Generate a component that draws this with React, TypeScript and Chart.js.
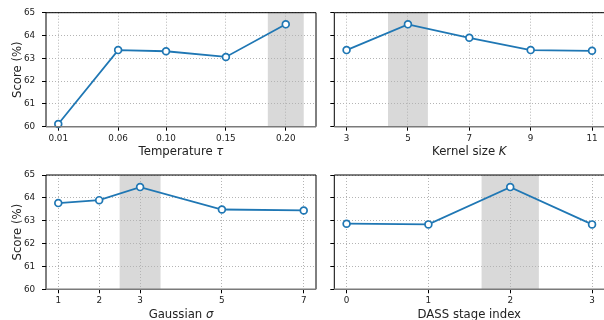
import React, { useEffect, useRef } from "react";
import { Chart, registerables } from "chart.js";

Chart.register(...registerables);
Chart.defaults.font.family = '"DejaVu Sans", sans-serif';

const BLUE = "#1f77b4";

// ---- data ----
const tempValues = [0.01, 0.06, 0.1, 0.15, 0.2];
const tempTickLabels = ["0.01", "0.06", "0.10", "0.15", "0.20"];
const tempScores = [60.12, 63.36, 63.31, 63.06, 64.49];

const kernelValues = [3, 5, 7, 9, 11];
const kernelTickLabels = ["3", "5", "7", "9", "11"];
const kernelScores = [63.36, 64.49, 63.9, 63.36, 63.33];

const sigmaValues = [1, 2, 3, 5, 7];
const sigmaTickLabels = ["1", "2", "3", "5", "7"];
const sigmaScores = [63.77, 63.9, 64.47, 63.49, 63.45];

const stageValues = [0, 1, 2, 3];
const stageTickLabels = ["0", "1", "2", "3"];
const stageScores = [62.87, 62.84, 64.47, 62.84];

const yTickValues = [60, 61, 62, 63, 64, 65];
const yTitle = "Score (%)";

type Part = { text: string; italic: boolean };

type PanelDef = {
  xs: number[];
  ys: number[];
  tickLabels: string[];
  xMin: number;
  xMax: number;
  spanFrom: number;
  spanTo: number;
  label: Part[];
  showY: boolean;
  rightBorder: boolean;
  left: number;
  top: number;
  w: number;
  h: number;
  padTop: number;
  padRight: number;
  yAxisW: number;
  plotH: number;
};

const spanPlugin = {
  id: "span",
  beforeDraw(chart: any, _a: any, opts: any) {
    const { ctx, chartArea } = chart;
    const x = chart.scales.x;
    const x0 = x.getPixelForValue(opts.from);
    const x1 = x.getPixelForValue(opts.to);
    ctx.save();
    ctx.fillStyle = "#d9d9d9";
    ctx.fillRect(x0, chartArea.top, x1 - x0, chartArea.bottom - chartArea.top);
    ctx.restore();
  },
};

const frameLabelPlugin = {
  id: "frameLabel",
  afterDraw(chart: any, _a: any, opts: any) {
    const { ctx, chartArea } = chart;
    const { left, top, right, bottom } = chartArea;
    ctx.save();
    ctx.lineWidth = 1;
    ctx.strokeStyle = "#000";
    ctx.beginPath();
    ctx.moveTo(left, bottom);
    ctx.lineTo(left, top);
    ctx.lineTo(right, top);
    if (opts.rightBorder) {
      ctx.lineTo(right, bottom);
    }
    ctx.stroke();
    ctx.strokeStyle = "#7a7a7a";
    ctx.lineWidth = 1.6;
    ctx.beginPath();
    ctx.moveTo(left, bottom);
    ctx.lineTo(right, bottom);
    ctx.stroke();

    const parts: Part[] = opts.parts || [];
    const size = 11.7;
    const fontOf = (it: boolean) =>
      `${it ? "italic " : ""}${size}px "DejaVu Sans"`;
    let total = 0;
    const widths = parts.map((pt) => {
      ctx.font = fontOf(pt.italic);
      const w = ctx.measureText(pt.text).width;
      total += w;
      return w;
    });
    let x = opts.centerX - total / 2;
    const y = bottom + opts.offset;
    ctx.fillStyle = "#222";
    ctx.textBaseline = "alphabetic";
    ctx.textAlign = "left";
    parts.forEach((pt, i) => {
      ctx.font = fontOf(pt.italic);
      ctx.fillText(pt.text, x, y);
      x += widths[i];
    });
    ctx.restore();
  },
};

const panels: PanelDef[] = [
  {
    xs: tempValues,
    ys: tempScores,
    tickLabels: tempTickLabels,
    xMin: -0.00025,
    xMax: 0.22525,
    spanFrom: 0.185,
    spanTo: 0.215,
    label: [
      { text: "Temperature ", italic: false },
      { text: "τ", italic: true },
    ],
    showY: true,
    rightBorder: true,
    left: 0,
    top: 0,
    w: 320,
    h: 160,
    padTop: 12.7,
    padRight: 4,
    yAxisW: 46,
    plotH: 114,
  },
  {
    xs: kernelValues,
    ys: kernelScores,
    tickLabels: kernelTickLabels,
    xMin: 2.6,
    xMax: 11.39,
    spanFrom: 4.35,
    spanTo: 5.65,
    label: [
      { text: "Kernel size ", italic: false },
      { text: "K", italic: true },
    ],
    showY: false,
    rightBorder: false,
    left: 320,
    top: 0,
    w: 284,
    h: 160,
    padTop: 12.7,
    padRight: 0,
    yAxisW: 14.3,
    plotH: 114,
  },
  {
    xs: sigmaValues,
    ys: sigmaScores,
    tickLabels: sigmaTickLabels,
    xMin: 0.7,
    xMax: 7.3,
    spanFrom: 2.5,
    spanTo: 3.5,
    label: [
      { text: "Gaussian ", italic: false },
      { text: "σ", italic: true },
    ],
    showY: true,
    rightBorder: true,
    left: 0,
    top: 160,
    w: 320,
    h: 160,
    padTop: 15,
    padRight: 4,
    yAxisW: 46,
    plotH: 114.3,
  },
  {
    xs: stageValues,
    ys: stageScores,
    tickLabels: stageTickLabels,
    xMin: -0.15,
    xMax: 3.146,
    spanFrom: 1.65,
    spanTo: 2.35,
    label: [{ text: "DASS stage index", italic: false }],
    showY: false,
    rightBorder: false,
    left: 320,
    top: 160,
    w: 284,
    h: 160,
    padTop: 15,
    padRight: 0,
    yAxisW: 14.3,
    plotH: 114.3,
  },
];

function PanelChart({ p }: { p: PanelDef }) {
  const ref = useRef<HTMLCanvasElement>(null);
  useEffect(() => {
    const xAxisH = p.h - p.padTop - p.plotH;
    const gridCommon = {
      color: "#b4b4b4",
      lineWidth: 1,
      drawTicks: true,
      tickLength: 4,
      tickColor: "#000",
      tickWidth: 1,
      tickBorderDash: [],
    };
    const chart = new Chart(ref.current as HTMLCanvasElement, {
      type: "line",
      data: {
        datasets: [
          {
            data: p.xs.map((x, i) => ({ x, y: p.ys[i] })),
            borderColor: BLUE,
            borderWidth: 1.8,
            pointRadius: 3.4,
            pointBorderWidth: 1.7,
            pointBackgroundColor: "#fff",
            pointBorderColor: BLUE,
            pointHoverRadius: 3.4,
            tension: 0,
            clip: false as any,
          },
        ],
      },
      options: {
        animation: false,
        responsive: false,
        devicePixelRatio: 1,
        events: [],
        layout: {
          autoPadding: false,
          padding: { left: 0, top: p.padTop, right: p.padRight, bottom: 0 },
        },
        plugins: {
          legend: { display: false },
          tooltip: { enabled: false },
          span: { from: p.spanFrom, to: p.spanTo },
          frameLabel: {
            parts: p.label,
            offset: 28.6,
            rightBorder: p.rightBorder,
            centerX: p.yAxisW + 135,
          },
        } as any,
        scales: {
          x: {
            type: "linear",
            min: p.xMin,
            max: p.xMax,
            grid: gridCommon as any,
            border: { display: false, dash: [1, 2] } as any,
            afterBuildTicks: (scale: any) => {
              scale.ticks = p.xs.map((v) => ({ value: v }));
            },
            afterFit: (scale: any) => {
              scale.height = xAxisH;
              scale.paddingLeft = 0;
              scale.paddingRight = 0;
            },
            ticks: {
              autoSkip: false,
              maxRotation: 0,
              minRotation: 0,
              padding: 2.5,
              color: "#222",
              font: { size: 8.8 },
              callback: (_v: any, i: number) => p.tickLabels[i],
            },
          },
          y: {
            type: "linear",
            min: 60,
            max: 65,
            grid: gridCommon as any,
            border: { display: false, dash: [1, 2] } as any,
            afterBuildTicks: (scale: any) => {
              scale.ticks = yTickValues.map((v) => ({ value: v }));
            },
            afterFit: (scale: any) => {
              scale.width = p.yAxisW;
              scale.paddingTop = 0;
              scale.paddingBottom = 0;
            },
            title: {
              display: p.showY,
              text: yTitle,
              color: "#222",
              font: { size: 11.7 },
              padding: { top: 11.3, bottom: 0 },
            },
            ticks: {
              display: p.showY,
              padding: 6.8,
              color: "#222",
              font: { size: 8.8 },
              callback: (v: any) => String(v),
            },
          },
        },
      },
      plugins: [spanPlugin, frameLabelPlugin],
    });
    return () => chart.destroy();
  }, []);
  return (
    <canvas
      ref={ref}
      width={p.w}
      height={p.h}
      style={{
        position: "absolute",
        left: p.left,
        top: p.top,
        width: p.w,
        height: p.h,
        display: "block",
      }}
    />
  );
}

export default function App() {
  return (
    <div
      style={{
        position: "absolute",
        left: 0,
        top: 0,
        width: 604,
        height: 320,
        overflow: "hidden",
        background: "#fff",
      }}
    >
      {panels.map((p, i) => (
        <PanelChart key={i} p={p} />
      ))}
    </div>
  );
}
